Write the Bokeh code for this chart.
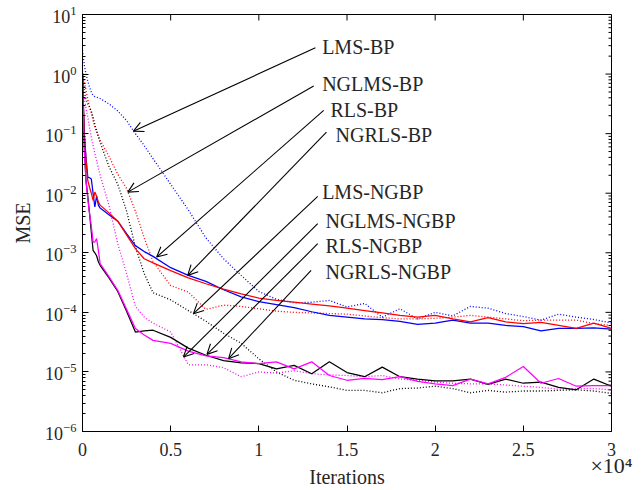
import numpy as np
from bokeh.plotting import figure
from bokeh.models import (FixedTicker, LogTicker, LinearAxis, Arrow, OpenHead, ColumnDataSource)
from bokeh.core.properties import value
from bokeh.embed import file_html
from bokeh.resources import INLINE

# ---------------- data (MSE given as log10 values) -------------
iterations = [0, 100, 200, 300, 400, 500, 600, 700, 800, 900, 1000, 1500, 2000, 2500,
              3000, 3500, 4000, 5000, 6000, 7000, 8000, 9000, 10000, 11000, 12000, 13000,
              14000, 15000, 16000, 17000, 18000, 19000, 20000, 21000, 22000, 23000, 24000,
              25000, 26000, 27000, 28000, 29000, 30000]

lms_bp_log10 = [0.40, 0.15, 0.00, -0.12, -0.22, -0.30, -0.36, -0.38, -0.39, -0.40, -0.41,
                -0.50, -0.62, -0.78, -1.00, -1.20, -1.42, -1.85, -2.28, -2.75, -3.10, -3.38,
                -3.65, -3.78, -3.84, -3.83, -3.80, -3.91, -3.85, -4.08, -3.94, -4.11, -4.00,
                -4.06, -3.90, -3.93, -4.02, -4.07, -4.13, -4.03, -4.08, -4.12, -4.18]

nglms_bp_log10 = [0.06, -0.12, -0.28, -0.42, -0.55, -0.66, -0.78, -0.89, -0.97, -1.04, -1.11,
                  -1.38, -1.68, -1.92, -2.30, -2.75, -3.15, -3.55, -3.66, -3.95, -3.88, -3.90,
                  -3.94, -3.98, -4.00, -4.01, -4.02, -4.03, -4.06, -4.09, -4.11, -4.11, -4.10,
                  -4.08, -4.05, -4.08, -4.11, -4.14, -4.13, -4.13, -4.13, -4.19, -4.22]

rls_bp_log10 = [0.00, -1.00, -1.40, -1.73, -1.74, -1.76, -2.00, -2.23, -2.05, -2.20, -2.25,
                -2.36, -2.47, -2.68, -2.88, -2.98, -3.06, -3.25, -3.38, -3.48, -3.62, -3.74,
                -3.82, -3.87, -3.92, -3.99, -4.05, -4.08, -4.11, -4.12, -4.15, -4.20, -4.18,
                -4.13, -4.18, -4.18, -4.22, -4.24, -4.31, -4.27, -4.27, -4.26, -4.28]

ngrls_bp_log10 = [0.00, -1.00, -1.45, -1.79, -1.90, -2.00, -2.12, -1.98, -2.05, -2.15, -2.20,
                  -2.33, -2.47, -2.70, -2.93, -3.10, -3.17, -3.30, -3.42, -3.52, -3.61, -3.69,
                  -3.76, -3.80, -3.83, -3.86, -3.89, -3.93, -3.97, -4.01, -4.05, -4.08, -4.05,
                  -4.11, -4.16, -4.09, -4.16, -4.19, -4.17, -4.22, -4.27, -4.18, -4.27]

lms_ngbp_log10 = [0.00, -0.30, -0.42, -0.50, -0.56, -0.62, -0.72, -0.85, -0.95, -1.05, -1.15,
                  -1.55, -1.85, -2.30, -2.90, -3.35, -3.67, -3.79, -3.97, -4.15, -4.35, -4.52,
                  -4.78, -5.00, -5.14, -5.20, -5.25, -5.31, -5.31, -5.35, -5.28, -5.27, -5.24,
                  -5.28, -5.35, -5.31, -5.34, -5.32, -5.32, -5.31, -5.30, -5.32, -5.36]

nglms_ngbp_log10 = [0.00, -0.40, -0.58, -0.72, -0.90, -1.06, -1.20, -1.33, -1.45, -1.58, -1.70,
                    -2.20, -2.85, -3.35, -3.90, -4.08, -4.18, -4.33, -4.88, -4.88, -4.93, -5.08,
                    -5.00, -5.02, -4.98, -5.03, -5.05, -5.06, -5.08, -5.06, -5.12, -5.14, -5.17,
                    -5.19, -5.20, -5.20, -5.22, -5.24, -5.26, -5.29, -5.28, -5.28, -5.30]

rls_ngbp_log10 = [0.00, -1.20, -1.80, -2.05, -2.34, -2.65, -2.96, -3.00, -3.05, -3.15, -3.21,
                  -3.42, -3.65, -3.98, -4.33, -4.31, -4.30, -4.42, -4.60, -4.72, -4.81, -4.85,
                  -4.86, -4.95, -4.89, -5.03, -4.83, -5.01, -5.08, -4.92, -5.08, -5.12, -5.15,
                  -5.15, -5.12, -5.21, -5.12, -5.19, -5.17, -5.26, -5.30, -5.12, -5.24]

ngrls_ngbp_log10 = [0.00, -1.30, -1.80, -2.10, -2.34, -2.55, -2.82, -2.82, -2.76, -2.96, -3.18,
                    -3.40, -3.63, -3.95, -4.27, -4.38, -4.47, -4.52, -4.65, -4.73, -4.76, -4.83,
                    -4.86, -4.83, -4.95, -4.83, -5.06, -5.14, -5.11, -5.13, -5.08, -5.16, -5.20,
                    -5.23, -5.12, -5.20, -5.09, -4.91, -5.19, -5.11, -5.24, -5.23, -5.23]

series_names = ["LMS-BP", "NGLMS-BP", "RLS-BP", "NGRLS-BP",
                "LMS-NGBP", "NGLMS-NGBP", "RLS-NGBP", "NGRLS-NGBP"]

# annotation label anchors and arrow tails / tips (data units)
label_x = [13590, 13590, 14060, 14350, 13590, 13780, 13780, 13780]
label_y_log10 = [0.46, -0.16, -0.61, -1.03, -1.98, -2.46, -2.88, -3.32]
arrow_tail_x = [13210, 13110, 13680, 13835, 13340, 13340, 13340, 12965]
arrow_tail_log10 = [0.44, -0.20, -0.61, -0.975, -2.054, -2.512, -2.847, -3.295]
arrow_tip_x = [2886, 2568, 4205, 5966, 6290, 5727, 7057, 8284]
arrow_tip_log10 = [-0.958, -1.982, -3.072, -3.379, -4.022, -4.75, -4.705, -4.777]

x_ticks = [0, 5000, 10000, 15000, 20000, 25000, 30000]
x_tick_labels = ["0", "0.5", "1", "1.5", "2", "2.5", "3"]
x_multiplier_text = "×10⁴"
y_decades = [-6, -5, -4, -3, -2, -1, 0, 1]

# ---------------- figure ----------------
FONT = "Liberation Serif"
TXT = "#262626"
X0, X1 = 0, 30000
Y0, Y1 = 1e-6, 10

p = figure(width=642, height=490, x_range=(X0, X1), y_range=(Y0, Y1),
           y_axis_type="log", output_backend="svg", toolbar_location=None,
           min_border_left=82, min_border_right=31, min_border_top=14, min_border_bottom=59)
p.grid.visible = False
p.outline_line_color = "black"
p.outline_line_width = 1
p.background_fill_color = "white"
p.border_fill_color = "white"

styles = [
    (lms_bp_log10, "#0000ff", "dotted"),
    (nglms_bp_log10, "#ff0000", "dotted"),
    (lms_ngbp_log10, "#000000", "dotted"),
    (nglms_ngbp_log10, "#ff00ff", "dotted"),
    (rls_bp_log10, "#0000ff", "solid"),
    (ngrls_bp_log10, "#ff0000", "solid"),
    (rls_ngbp_log10, "#000000", "solid"),
    (ngrls_ngbp_log10, "#ff00ff", "solid"),
]
x_arr = np.array(iterations, dtype=float)
for vals, col, kind in styles:
    y = 10.0 ** np.array(vals)
    if kind == "dotted":
        p.line(x_arr, y, line_color=col, line_width=1.3, line_dash="1 2")
    else:
        p.line(x_arr, y, line_color=col, line_width=1.25)

# labels
lab_src = ColumnDataSource(dict(x=label_x, y=list(10.0 ** np.array(label_y_log10)),
                                text=series_names))
p.text(x="x", y="y", text="text", source=lab_src, text_font=value(FONT),
       text_font_size="20px", text_color=TXT, text_align="left",
       text_baseline="alphabetic")

arr_src = ColumnDataSource(dict(x0=arrow_tail_x, y0=list(10.0 ** np.array(arrow_tail_log10)),
                                x1=arrow_tip_x, y1=list(10.0 ** np.array(arrow_tip_log10))))
p.add_layout(Arrow(source=arr_src, x_start="x0", y_start="y0", x_end="x1", y_end="y1",
                   line_width=1.1, line_color="black",
                   end=OpenHead(size=10, line_width=1.1, line_color="black")))

# axes
def style_axis(ax):
    ax.axis_line_color = "black"
    ax.major_tick_line_color = "black"
    ax.minor_tick_line_color = "black"
    ax.major_tick_in = 6
    ax.major_tick_out = 0
    ax.minor_tick_in = 3
    ax.minor_tick_out = 0
    ax.major_label_text_font = FONT
    ax.major_label_text_color = TXT
    ax.major_label_text_font_size = "18px"
    ax.axis_label_text_font = FONT
    ax.axis_label_text_color = TXT
    ax.axis_label_text_font_size = "20px"
    ax.axis_label_text_font_style = "normal"

p.xaxis.ticker = FixedTicker(ticks=x_ticks, minor_ticks=[])
p.xaxis.major_label_overrides = dict(zip(x_ticks, x_tick_labels))
p.yaxis.axis_label = "MSE"
style_axis(p.xaxis[0])
style_axis(p.yaxis[0])
p.xaxis.major_label_standoff = 11
p.yaxis.major_label_standoff = 6
p.yaxis.axis_label_standoff = 8
p.yaxis.ticker = LogTicker(num_minor_ticks=10)

# second bottom axis: carries the "×10⁴" multiplier at the right end and the title
mult_axis = LinearAxis(ticker=FixedTicker(ticks=[X1], minor_ticks=[]),
                       major_label_overrides={X1: x_multiplier_text},
                       axis_label="Iterations")
style_axis(mult_axis)
mult_axis.axis_line_color = None
mult_axis.major_tick_line_color = None
mult_axis.major_tick_in = 0
mult_axis.major_tick_out = 0
mult_axis.major_label_text_font_size = "22px"
mult_axis.major_label_standoff = -6
mult_axis.axis_label_standoff = -15
p.add_layout(mult_axis, "below")

# mirrored ticks on the top and right edges of the box (drawn as short rays)
top_x = [t for t in x_ticks if X0 < t < X1]
p.ray(x=top_x, y=[Y1] * len(top_x), length=6, length_units="screen",
      angle=-np.pi / 2, line_color="black", line_width=1)
major_y = [10.0 ** d for d in y_decades[1:-1]]
p.ray(x=[X1] * len(major_y), y=major_y, length=6, length_units="screen",
      angle=np.pi, line_color="black", line_width=1)
minor_y = [m * 10.0 ** d for d in y_decades[:-1] for m in range(2, 10)]
p.ray(x=[X1] * len(minor_y), y=minor_y, length=3, length_units="screen",
      angle=np.pi, line_color="black", line_width=1)

open("out.html", "w").write(file_html(p, INLINE))
